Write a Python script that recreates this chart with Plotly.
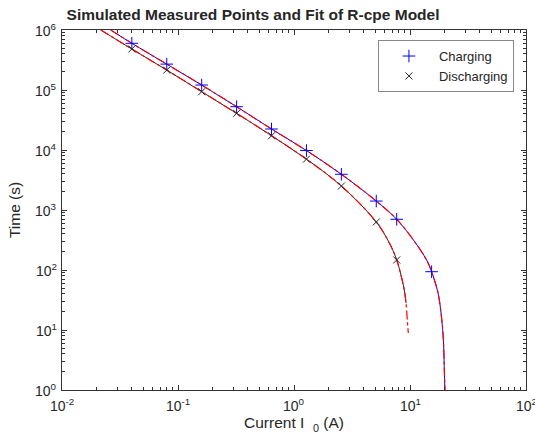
import plotly.graph_objects as go

# Measured (simulated) points
charge_I = [0.04, 0.08, 0.16, 0.32, 0.64, 1.28, 2.56, 5.12, 7.68, 15.36]
charge_t = [6.0e5, 2.7e5, 1.21e5, 5.27e4, 2.24e4, 9.8e3, 3.94e3, 1.41e3, 700, 93.7]
dis_I = [0.04, 0.08, 0.16, 0.32, 0.64, 1.28, 2.56, 5.12, 7.68]
dis_t = [4.82e5, 2.15e5, 9.37e4, 4.09e4, 1.73e4, 7.03e3, 2.51e3, 631, 147]

# Curves
charge_curve_I = [0.0263, 0.04, 0.08, 0.16, 0.32, 0.64, 1.28, 2.56, 5.12, 7.68, 10.7, 13.9, 15.36,
                  17.2, 17.9, 18.8, 19.4, 19.8, 20.0]
charge_curve_t = [1e6, 6.0e5, 2.7e5, 1.21e5, 5.27e4, 2.24e4, 9.8e3, 3.94e3, 1.41e3, 700, 316, 147, 93.7,
                  46.4, 31.6, 14.7, 6.8, 1.92, 1.0]
dis_curve_I = [0.0216, 0.04, 0.08, 0.16, 0.32, 0.64, 1.28, 2.56, 5.12, 6.5, 7.68, 8.93, 9.18, 9.25]
dis_curve_t = [1e6, 4.82e5, 2.15e5, 9.37e4, 4.09e4, 1.73e4, 7.03e3, 2.51e3, 631, 304, 147, 46.4, 31.6, 28]
dis_fit_I = dis_curve_I + [9.48, 9.67]
dis_fit_t = dis_curve_t + [14.7, 8.9]

# tick labels (decade exponents)
x_tick_exp = [-2, -1, 0, 1, 2]
y_tick_exp = [0, 1, 2, 3, 4, 5, 6]

XR = [-2, 2]
YR = [0, 6]
font_fam = "Liberation Sans"
txt_col = "#262626"

fig = go.Figure()
fig.add_trace(go.Scatter(x=charge_curve_I, y=charge_curve_t, mode="lines", line_shape="spline",
                         line=dict(color="blue", width=1), showlegend=False))
fig.add_trace(go.Scatter(x=charge_curve_I, y=charge_curve_t, mode="lines", line_shape="spline",
                         line=dict(color="red", width=1.2, dash="dashdot"), showlegend=False))
fig.add_trace(go.Scatter(x=dis_curve_I, y=dis_curve_t, mode="lines", line_shape="spline",
                         line=dict(color=txt_col, width=1), showlegend=False))
fig.add_trace(go.Scatter(x=dis_fit_I, y=dis_fit_t, mode="lines", line_shape="spline",
                         line=dict(color="red", width=1.2, dash="dashdot"), showlegend=False))
fig.add_trace(go.Scatter(x=charge_I, y=charge_t, mode="markers", name="Charging",
                         marker=dict(symbol="cross-thin", size=9, color="blue",
                                     line=dict(color="blue", width=1))))
fig.add_trace(go.Scatter(x=dis_I, y=dis_t, mode="markers", name="Discharging",
                         marker=dict(symbol="x-thin", size=7, color=txt_col,
                                     line=dict(color=txt_col, width=1))))

axis_common = dict(
    type="log", showgrid=False, zeroline=False, showline=True, linecolor="#333333",
    linewidth=1, mirror="allticks", ticks="inside", ticklen=5, tickwidth=1, tickcolor="#333333",
    tickmode="linear", tick0=0, dtick=1, showticklabels=False,
    minor=dict(ticks="inside", ticklen=3, tickwidth=1, tickcolor="#333333", dtick="D1",
               showgrid=False),
)

fig.update_xaxes(**axis_common, range=XR,
                 title=dict(text="Current I  <sub>0</sub> (A)",
                            font=dict(family=font_fam, size=15.5, color=txt_col),
                            standoff=27))
fig.update_yaxes(**axis_common, range=YR,
                 title=dict(text="Time (s)",
                            font=dict(family=font_fam, size=15.5, color=txt_col),
                            standoff=36))

annotations = []
for e in x_tick_exp:
    annotations.append(dict(x=e, xref="x", y=0, yref="paper", yanchor="top", xanchor="center",
                            yshift=-4, showarrow=False, text=f"10<sup>{e}</sup>",
                            font=dict(family=font_fam, size=14, color=txt_col)))
for e in y_tick_exp:
    annotations.append(dict(x=0, xref="paper", y=e, yref="y", xanchor="right", yanchor="middle",
                            xshift=-3, showarrow=False, text=f"10<sup>{e}</sup>",
                            font=dict(family=font_fam, size=14, color=txt_col)))

fig.update_layout(
    width=535, height=444,
    margin=dict(l=62, r=9, t=30, b=54, autoexpand=False),
    paper_bgcolor="white", plot_bgcolor="white",
    annotations=annotations,
    title=dict(text="<b>Simulated Measured Points and Fit of R-cpe Model</b>",
               x=0.473, xref="container", xanchor="center", y=0.968, yanchor="middle",
               font=dict(family=font_fam, size=15.5, color=txt_col)),
    legend=dict(x=0.974, y=0.972, xanchor="right", yanchor="top",
                bordercolor="#888888", borderwidth=1, bgcolor="white", itemwidth=50,
                font=dict(family=font_fam, size=13, color=txt_col)),
)

fig.write_html("out.html")
